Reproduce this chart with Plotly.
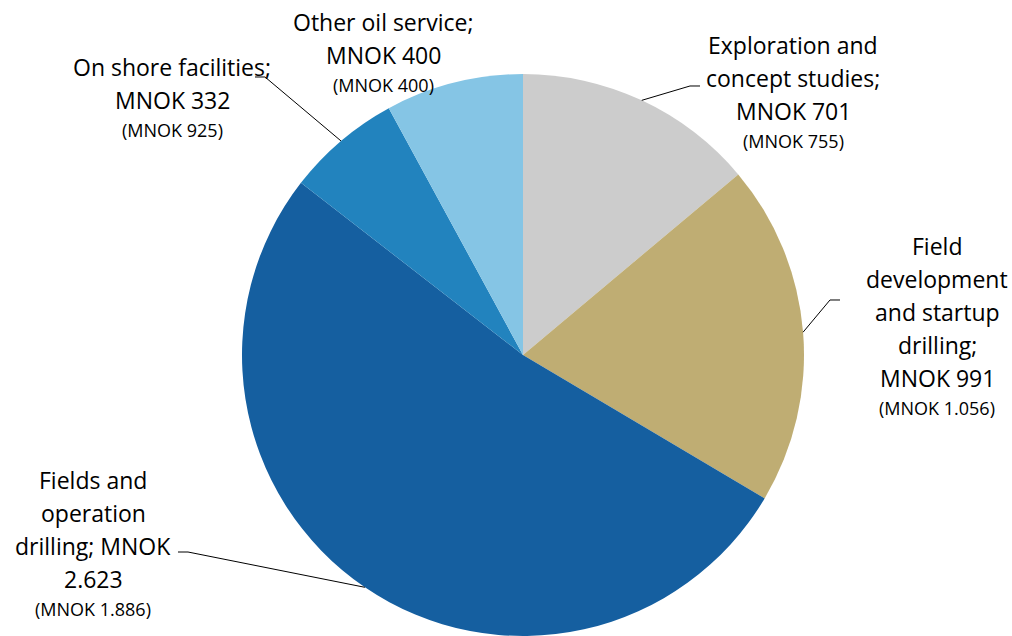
import math
import plotly.graph_objects as go

# -------------------------------
# data
# -------------------------------
categories = ["Exploration and concept studies", "Field development and startup drilling",
              "Fields and operation drilling", "On shore facilities", "Other oil service"]
values = [701, 991, 2623, 332, 400]
previous = ["755", "1.056", "1.886", "925", "400"]
colors = ["#CCCCCC", "#BFAD73", "#155FA0", "#2283BE", "#85C5E5"]

W, H = 1012, 636
CX, CY, R = 523, 355, 281
FONT = "'Open Sans', sans-serif"

# label text lines (main part) per slice
label_lines = [
    ["Exploration and", "concept studies;", "MNOK 701"],
    ["Field", "development", "and startup", "drilling;", "MNOK 991"],
    ["Fields and", "operation", "drilling; MNOK", "2.623"],
    ["On shore facilities;", "MNOK 332"],
    ["Other oil service;", "MNOK 400"],
]
# label centre x and top line y in pixels, plus leader end (None = no leader)
label_pos = [(793, 45), (937, 246), (93, 480), (172, 67), (383, 22)]
leader_end = [(690, 86), (830, 300), (188, 552), (265, 77), None]


def px(x):
    return x / W


def py(y):
    return 1 - y / H


fig = go.Figure()
fig.add_trace(go.Pie(
    labels=categories, values=values, sort=False, direction="clockwise",
    marker=dict(colors=colors, line=dict(width=0)),
    textinfo="none", hoverinfo="label+value", showlegend=False,
    domain=dict(x=[px(CX - R), px(CX + R)], y=[py(CY + R), py(CY - R)]),
))

total = sum(values)
cum = 0
for i, v in enumerate(values):
    mid = (cum + v / 2) / total * 2 * math.pi
    cum += v
    ex, ey = CX + R * math.sin(mid), CY - R * math.cos(mid)

    lx, ly = label_pos[i]
    lines = label_lines[i]
    for k, t in enumerate(lines):
        fig.add_annotation(x=px(lx), y=py(ly + k * 33), xref="paper", yref="paper",
                           text=t, showarrow=False, font=dict(size=23, color="#000000", family=FONT),
                           xanchor="center", yanchor="middle")
    fig.add_annotation(x=px(lx), y=py(ly + len(lines) * 33 - 3), xref="paper", yref="paper",
                       text="(MNOK %s)" % previous[i], showarrow=False,
                       font=dict(size=18, color="#000000", family=FONT),
                       xanchor="center", yanchor="middle")

    if leader_end[i] is not None:
        qx, qy = leader_end[i]
        hx = qx + 10 if qx > CX else qx - 10
        fig.add_shape(type="path", xref="paper", yref="paper",
                      path="M %f,%f L %f,%f L %f,%f" % (px(ex), py(ey), px(qx), py(qy), px(hx), py(qy)),
                      line=dict(color="#000000", width=1))

fig.update_layout(width=W, height=H, margin=dict(l=0, r=0, t=0, b=0),
                  paper_bgcolor="white", plot_bgcolor="white")

# drop the default page margin so the figure sits at the window corner
fig.write_html("out.html", config={"displayModeBar": False},
               post_script="document.body.style.margin='0';")
